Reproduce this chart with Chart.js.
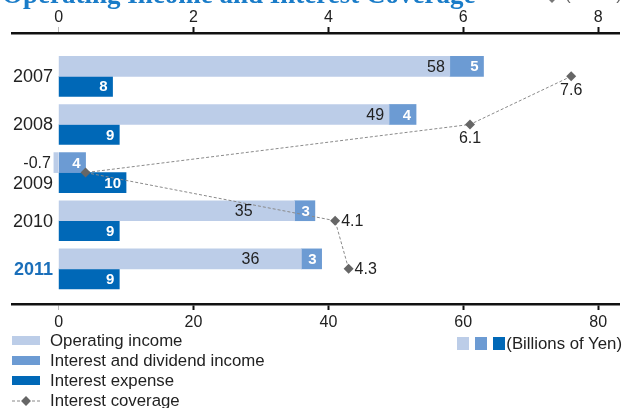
<!DOCTYPE html>
<html>
<head>
<meta charset="utf-8">
<script src="https://cdn.jsdelivr.net/npm/chart.js@4.4.1/dist/chart.umd.min.js"></script>
<style>
  body { margin:0; background:#fff; font-family:"Liberation Sans", Arial, sans-serif; }
  #wrap { position:relative; width:624px; height:408px; overflow:hidden; }
  #chart { position:absolute; left:0; top:0; }
  #title { position:absolute; left:2px; top:-21px; font:bold 27px "Liberation Serif", serif; color:#1a7cc8; white-space:nowrap; }
  #unitTop { position:absolute; right:2px; top:-15px; font:17px "Liberation Sans", sans-serif; color:#666; white-space:nowrap; }
  #markTop { position:absolute; left:536px; top:-8px; }
  .leg { position:absolute; left:12px; height:20px; line-height:20px; font-size:16.8px; color:#222; white-space:nowrap; }
  .sw { display:inline-block; width:28px; height:9px; vertical-align:middle; margin-right:10px; position:relative; top:-1px; }
  #unit { position:absolute; right:2px; top:334px; line-height:20px; font-size:16.8px; color:#222; white-space:nowrap; }
  .sq { display:inline-block; width:12px; height:13px; vertical-align:middle; margin-right:6px; position:relative; top:-1px; }
</style>
</head>
<body>
<div id="wrap">
  <canvas id="chart" width="624" height="408"></canvas>
  <div id="title">Operating Income and Interest Coverage</div>
  <svg id="markTop" width="24" height="12">
    <line x1="0" y1="6" x2="24" y2="6" stroke="#999" stroke-width="1" stroke-dasharray="3,2"/>
    <rect x="12.5" y="2.5" width="7" height="7" fill="#777" transform="rotate(45 16 6)"/>
  </svg>
  <div id="unitTop">(Times)</div>

  <div class="leg" style="top:331px"><span class="sw" style="background:#bccde8"></span>Operating income</div>
  <div class="leg" style="top:351px"><span class="sw" style="background:#6c9bd3"></span>Interest and dividend income</div>
  <div class="leg" style="top:371px"><span class="sw" style="background:#0068b7"></span>Interest expense</div>
  <div class="leg" style="top:391px">
    <svg width="28" height="10" style="vertical-align:middle;margin-right:10px;position:relative;top:-1px">
      <line x1="0" y1="5" x2="28" y2="5" stroke="#888" stroke-width="1" stroke-dasharray="3,2"/>
      <rect x="10.5" y="1.5" width="7" height="7" fill="#666" transform="rotate(45 14 5)"/>
    </svg>Interest coverage</div>

  <div id="unit"><span class="sq" style="background:#bccde8"></span><span class="sq" style="background:#6c9bd3"></span><span class="sq" style="background:#0068b7;margin-right:1px"></span>(Billions of Yen)</div>
</div>

<script>
const years = ['2007', '2008', '2009', '2010', '2011'];
const operatingIncome = [58, 49, -0.7, 35, 36];
const interestDividend = [5, 4, 4, 3, 3];
const interestExpense = [8, 9, 10, 9, 9];
const interestCoverage = [7.6, 6.1, 0.4, 4.1, 4.3];
const yenTicks = [0, 20, 40, 60, 80];
const timesTicks = [0, 2, 4, 6, 8];

const LIGHT = '#bccde8', MID = '#6c9bd3', DARK = '#0068b7';

// label placement tweaks (where the reference moved labels around)
const opShift = [0, 0, 0, 37, 37];
const coverageLabelPos = ['below', 'below', null, 'right', 'right'];

const tickColor = c => (c.tick && c.tick.value === 0) ? '#bbb' : '#111';
const tickWidth = c => (c.tick && c.tick.value === 0) ? 1 : 2;

const labelPlugin = {
    id: 'labels',
    afterDatasetsDraw(chart) {
        const ctx = chart.ctx;
        ctx.save();
        ctx.textBaseline = 'middle';

        // operating income
        ctx.font = '16px "Liberation Sans"';
        ctx.fillStyle = '#222';
        ctx.textAlign = 'right';
        chart.getDatasetMeta(0).data.forEach((bar, i) => {
            const v = operatingIncome[i];
            const x = v < 0 ? bar.x - 3 : bar.x - 5 - opShift[i];
            ctx.fillText(String(v), x, bar.y + 1);
        });

        // interest & dividend, interest expense (white bold)
        ctx.font = 'bold 15px "Liberation Sans"';
        ctx.fillStyle = '#fff';
        chart.getDatasetMeta(1).data.forEach((bar, i) => {
            ctx.fillText(String(interestDividend[i]), bar.x - 5, bar.y + 1);
        });
        chart.getDatasetMeta(2).data.forEach((bar, i) => {
            ctx.fillText(String(interestExpense[i]), bar.x - 5, bar.y + 1);
        });

        // coverage labels
        ctx.font = '16px "Liberation Sans"';
        ctx.fillStyle = '#222';
        chart.getDatasetMeta(3).data.forEach((pt, i) => {
            const pos = coverageLabelPos[i];
            if (!pos) return;
            if (pos === 'below') {
                ctx.textAlign = 'center';
                ctx.fillText(interestCoverage[i].toFixed(1), pt.x, pt.y + 14);
            } else {
                ctx.textAlign = 'left';
                ctx.fillText(interestCoverage[i].toFixed(1), pt.x + 6, pt.y + 1);
            }
        });

        // year labels
        const yScale = chart.scales.y;
        ctx.textAlign = 'right';
        years.forEach((yr, i) => {
            const last = i === years.length - 1;
            ctx.font = (last ? 'bold ' : '') + '18px "Liberation Sans"';
            ctx.fillStyle = last ? '#1a6fba' : '#222';
            const y = yScale.getPixelForValue(+yr) + (yr === '2009' ? 11 : 1);
            ctx.fillText(yr, 53, y);
        });
        ctx.restore();
    }
};

new Chart(document.getElementById('chart'), {
    type: 'bar',
    data: {
        labels: years,
        datasets: [
            { label: 'Operating income', data: operatingIncome, backgroundColor: LIGHT, stack: 'a', order: 1, xAxisID: 'x', yAxisID: 'y' },
            { label: 'Interest and dividend income', data: interestDividend, backgroundColor: MID, stack: 'a', order: 1, xAxisID: 'x', yAxisID: 'y' },
            { label: 'Interest expense', data: interestExpense, backgroundColor: DARK, stack: 'b', order: 1, xAxisID: 'x', yAxisID: 'y' },
            {
                type: 'line', label: 'Interest coverage', data: interestCoverage, indexAxis: 'y',
                xAxisID: 'x2', yAxisID: 'y', order: 0,
                borderColor: '#8a8a8a', borderWidth: 1, borderDash: [3, 2], fill: false,
                pointStyle: 'rectRot', pointRadius: 5, pointBackgroundColor: '#666', pointBorderWidth: 0
            }
        ]
    },
    options: {
        indexAxis: 'y',
        responsive: false,
        animation: false,
        devicePixelRatio: 1,
        barThickness: 20,
        layout: { padding: { left: 12, right: 0, top: 0, bottom: 74 } },
        plugins: { legend: { display: false }, tooltip: { enabled: false } },
        scales: {
            x: {
                type: 'linear', position: 'bottom', stacked: true,
                min: -6.91, max: 83.09,
                afterBuildTicks: s => { s.ticks = yenTicks.map(v => ({ value: v })); },
                afterFit: s => { s.height = 30; },
                border: { color: '#111', width: 2.5 },
                grid: { drawOnChartArea: false, tickLength: 6, tickColor, tickWidth },
                ticks: { color: '#222', font: { size: 16, family: 'Liberation Sans' }, padding: 3 }
            },
            x2: {
                type: 'linear', position: 'top',
                min: -0.691, max: 8.309,
                afterBuildTicks: s => { s.ticks = timesTicks.map(v => ({ value: v })); },
                afterFit: s => { s.height = 33; },
                border: { color: '#111', width: 2.5 },
                grid: { drawOnChartArea: false, tickLength: 6, tickColor, tickWidth },
                ticks: { color: '#222', font: { size: 16, family: 'Liberation Sans' }, padding: 0 }
            },
            y: {
                type: 'linear', reverse: true, min: 2006.1, max: 2011.73,
                offset: false, grid: { offset: false },
                display: false
            }
        }
    },
    plugins: [labelPlugin]
});
</script>
</body>
</html>
